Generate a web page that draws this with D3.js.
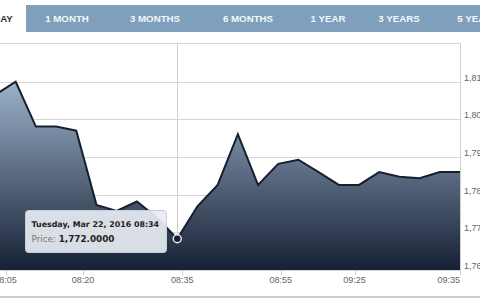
<!DOCTYPE html>
<html><head><meta charset="utf-8">
<script src="https://cdn.jsdelivr.net/npm/d3@7"></script>
<style>
html,body{margin:0;padding:0;background:#fff;overflow:hidden;}
svg{display:block;}
</style></head>
<body>
<svg id="chart" width="480" height="305"></svg>
<script>
// ---- data ----
const tabs = ["DAY", "1 MONTH", "3 MONTHS", "6 MONTHS", "1 YEAR", "3 YEARS", "5 YEARS"];
const times = ["08:03","08:07","08:11","08:15","08:19","08:22","08:25","08:28","08:31","08:34",
               "08:38","08:42","08:46","08:50","08:54","09:02","09:10","09:18","09:27","09:29",
               "09:30","09:32","09:33","09:35"];
const prices = [1806.6,1810.0,1798.1,1798.1,1797.0,1777.3,1775.7,1778.2,1773.9,1768.3,
                1776.9,1782.6,1796.1,1782.6,1788.2,1789.3,1786.0,1782.6,1782.6,1786.0,
                1784.8,1784.4,1786.0,1786.0];
const xTickLabels = ["08:05","08:20","08:35","08:55","09:25","09:35"];
const yTickValues = [1760,1770,1780,1790,1800,1810];
const hoverTime = "08:34";
const tooltipTitle = "Tuesday, Mar 22, 2016 08:34";
const tooltipLabel = "Price:";
const tooltipValue = "1,772.0000";

// ---- layout ----
const W = 480, H = 305;
const plot = {left: 0, right: 460, top: 43, bottom: 270};
const parse = d3.timeParse("%Y-%m-%d %H:%M");
const dt = s => parse("2016-03-22 " + s);
const data = times.map((t, i) => ({t: dt(t), v: prices[i]}));

const svg = d3.select("#chart");

// tab bar
const tabBar = svg.append("g");
tabBar.append("rect").attr("x", 0).attr("y", 5).attr("width", W).attr("height", 27).attr("fill", "#7f9fbd");
tabBar.append("rect").attr("x", -10).attr("y", 5).attr("width", 36).attr("height", 28).attr("fill", "#fff");
const tabCenters = [3, 67, 155, 248, 328, 399, 478];
tabBar.selectAll("text").data(tabs).join("text")
  .attr("x", (d, i) => tabCenters[i])
  .attr("y", 22)
  .attr("text-anchor", "middle")
  .attr("font-family", "'Liberation Sans', Arial, sans-serif")
  .attr("font-weight", "bold")
  .attr("font-size", "9.7px")
  .attr("fill", (d, i) => i === 0 ? "#333" : "#f4f7fb")
  .text(d => d);

// ordinal-like x scale: points equally spaced
const idx = d3.scaleLinear().domain([0, data.length - 1]).range([-4.5, 460]);
const x = d3.scaleTime().domain(data.map(d => d.t)).range(data.map((d, i) => idx(i)));
const y = d3.scaleLinear().domain([1760, 1820.3]).range([plot.bottom, plot.top]);

// gradient
const defs = svg.append("defs");
const grad = defs.append("linearGradient").attr("id", "fillGrad")
  .attr("gradientUnits", "userSpaceOnUse")
  .attr("x1", 0).attr("x2", 0).attr("y1", plot.top).attr("y2", plot.bottom);
grad.append("stop").attr("offset", 0).attr("stop-color", "#b6d0e9");
grad.append("stop").attr("offset", 1).attr("stop-color", "#172034");
defs.append("clipPath").attr("id", "clip").append("rect")
  .attr("x", plot.left).attr("y", plot.top - 2).attr("width", plot.right - plot.left).attr("height", plot.bottom - plot.top + 2);

// gridlines
svg.append("g").selectAll("line").data(yTickValues.concat([1820.3])).join("line")
  .attr("x1", plot.left).attr("x2", plot.right)
  .attr("y1", d => Math.round(y(d)) + 0.5).attr("y2", d => Math.round(y(d)) + 0.5)
  .attr("stroke", "#d6d6d6").attr("stroke-width", 1);

// crosshair
svg.append("line")
  .attr("x1", Math.round(x(dt(hoverTime))) + 0.5).attr("x2", Math.round(x(dt(hoverTime))) + 0.5)
  .attr("y1", plot.top).attr("y2", plot.bottom)
  .attr("stroke", "#d0d0d0").attr("stroke-width", 1);

// area + line
const g = svg.append("g").attr("clip-path", "url(#clip)");
g.append("path").datum(data)
  .attr("d", d3.area().x(d => x(d.t)).y0(plot.bottom).y1(d => y(d.v)))
  .attr("fill", "url(#fillGrad)");
g.append("path").datum(data)
  .attr("d", d3.line().x(d => x(d.t)).y(d => y(d.v)))
  .attr("fill", "none").attr("stroke", "#16202e").attr("stroke-width", 2).attr("stroke-linejoin", "miter");

// right border
svg.append("line").attr("x1", plot.right + 0.5).attr("x2", plot.right + 0.5)
  .attr("y1", plot.top).attr("y2", plot.bottom + 5)
  .attr("stroke", "#cfcfcf").attr("stroke-width", 1);

// x axis ticks & labels
const xTicks = xTickLabels.map(dt);
const xa = svg.append("g");
xa.selectAll("line").data(xTicks).join("line")
  .attr("x1", d => Math.round(x(d)) + 0.5).attr("x2", d => Math.round(x(d)) + 0.5)
  .attr("y1", plot.bottom).attr("y2", plot.bottom + 5)
  .attr("stroke", "#cfcfcf");
xa.selectAll("text").data(xTicks).join("text")
  .attr("x", d => x(d))
  .attr("y", plot.bottom + 13)
  .attr("text-anchor", (d, i) => i === xTicks.length - 1 ? "end" : "middle")
  .attr("font-family", "'Liberation Sans', Arial, sans-serif")
  .attr("font-size", "9px").attr("fill", "#666")
  .text((d, i) => xTickLabels[i]);

// y axis labels (right)
const fmt = d3.format(",");
svg.append("g").selectAll("text").data(yTickValues).join("text")
  .attr("x", plot.right + 4)
  .attr("y", d => y(d) - 1)
  .attr("font-family", "'Liberation Sans', Arial, sans-serif")
  .attr("font-size", "9px").attr("fill", "#666")
  .text(d => fmt(d));

// bottom separator
svg.append("line").attr("x1", 0).attr("x2", W).attr("y1", 297).attr("y2", 297)
  .attr("stroke", "#b4bcc6").attr("stroke-width", 1.5);

// tooltip
const hp = data.find(d => +d.t === +dt(hoverTime));
const px = x(hp.t), py = y(hp.v);
const tt = svg.append("g");
tt.append("rect").attr("x", 25.5).attr("y", 210.5).attr("width", 141).attr("height", 42).attr("rx", 3)
  .attr("fill", "rgba(232,236,242,0.92)").attr("stroke", "#c3cedb").attr("stroke-width", 1);
tt.append("text").attr("x", 31.5).attr("y", 226.5)
  .attr("font-family", "'DejaVu Sans', Verdana, sans-serif").attr("font-weight", "bold")
  .attr("font-size", "7.9px").attr("fill", "#222").text(tooltipTitle);
const t2 = tt.append("text").attr("x", 31.5).attr("y", 241.5)
  .attr("font-family", "'DejaVu Sans', Verdana, sans-serif").attr("font-size", "8.8px");
t2.append("tspan").attr("fill", "#777").text(tooltipLabel + " ");
t2.append("tspan").attr("fill", "#222").attr("font-weight", "bold").text(tooltipValue);

// marker
svg.append("circle").attr("cx", px).attr("cy", py).attr("r", 4)
  .attr("fill", "#16202e").attr("stroke", "#e8ecf2").attr("stroke-width", 1.5);
</script>
</body></html>
